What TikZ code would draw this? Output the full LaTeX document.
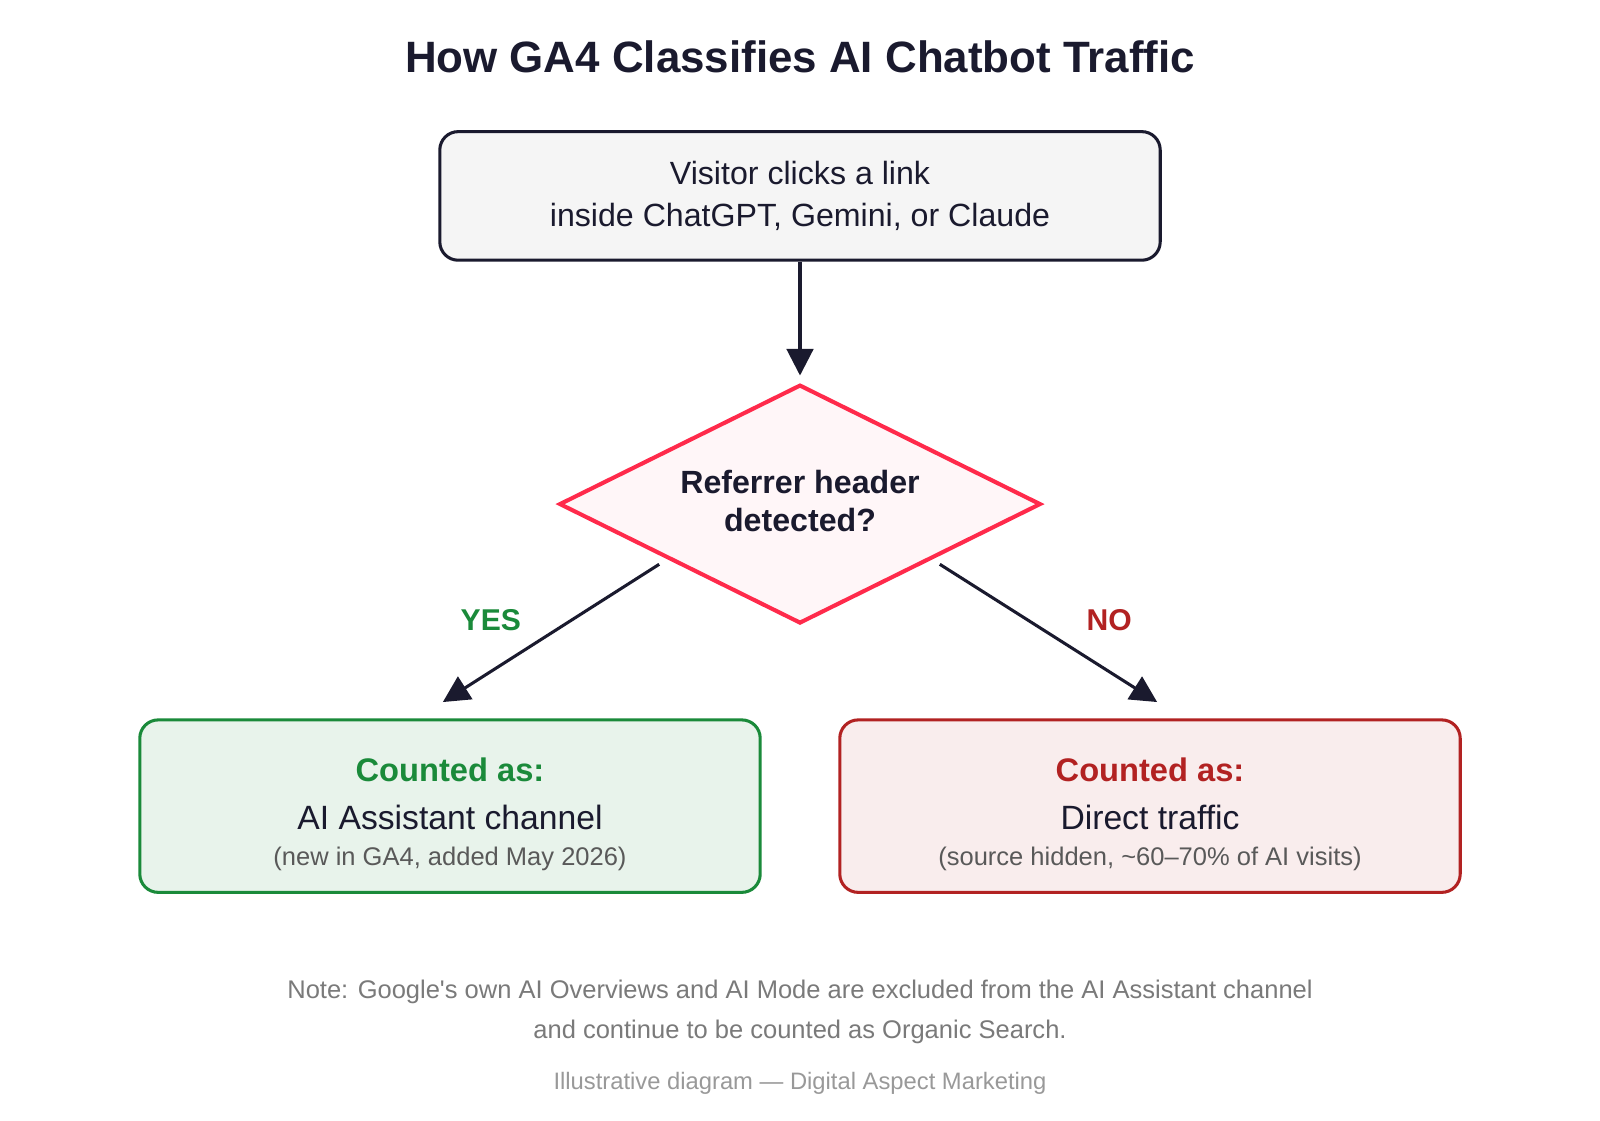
\documentclass[tikz,border=0pt]{standalone}
\usepackage{fontspec}
\setmainfont{Liberation Sans}
\usetikzlibrary{shapes.geometric,arrows.meta}
\definecolor{ink}{HTML}{1A1A2E}
\definecolor{grn}{HTML}{1A8A3A}
\definecolor{rd}{HTML}{B22222}
\definecolor{pink}{HTML}{FF2A4B}
\begin{document}
\begin{tikzpicture}[x=1pt,y=-1pt,
  box/.style={draw,line width=3pt,rounded corners=18pt,inner sep=0pt},
  arr/.style={draw=ink,line width=3pt,-{Triangle[length=26pt,width=26pt]}},
  t/.style={font=\fontsize{31.5}{36}\selectfont,text=ink},
  s/.style={font=\fontsize{25}{29}\selectfont,text=black!65},
  n/.style={font=\fontsize{25}{29}\selectfont,text=black!52}]
\fill[white] (0,0) rectangle (1600,1120);
\node[font=\bfseries\fontsize{43}{48}\selectfont,text=ink] (title) at (784,56) {How GA4 Classifies AI Chatbot Traffic};
\node[box,draw=ink,fill=black!4,minimum width=706pt,minimum height=126pt] (top) at (784,192) {};
\node[t] (t1) at (784,170) {Visitor clicks a link};
\node[t] (t2) at (784,213) {inside ChatGPT, Gemini, or Claude};
\node[diamond,draw=pink,fill=pink!4,line width=4pt,minimum width=472pt,minimum height=234pt,inner sep=0pt] (dec) at (784,494) {};
\node[font=\bfseries\fontsize{31.5}{36}\selectfont,text=ink,align=center] (dt) at (784,491) {Referrer header\\[1pt]detected?};
\coordinate (ya) at (646,553);
\coordinate (yb) at (434,688);
\coordinate (na) at (921,553);
\coordinate (nb) at (1134,688);
\coordinate (arrEnd) at (784,368);
\draw[arr] (top.south) -- (arrEnd);
\draw[arr] (ya) -- (yb);
\draw[arr] (na) -- (nb);
\node[font=\bfseries\fontsize{29.5}{34}\selectfont,text=grn] (yes) at (481,608) {YES};
\node[font=\bfseries\fontsize{29.5}{34}\selectfont,text=rd] (no) at (1087,608) {NO};
\node[box,draw=grn,fill=grn!10,minimum width=608pt,minimum height=169pt] (lb) at (441,790) {};
\node[font=\bfseries\fontsize{32}{36}\selectfont,text=grn] (l1) at (441,754) {Counted as:};
\node[t,font=\fontsize{33}{38}\selectfont] (l2) at (441,801) {AI Assistant channel};
\node[s] (l3) at (441,842) {(new in GA4, added May 2026)};
\node[box,draw=rd,fill=rd!8,minimum width=608pt,minimum height=169pt] (rb) at (1127,790) {};
\node[font=\bfseries\fontsize{32}{36}\selectfont,text=rd] (r1) at (1127,754) {Counted as:};
\node[t,font=\fontsize{33}{38}\selectfont] (r2) at (1127,801) {Direct traffic};
\node[s] (r3) at (1127,842) {(source hidden, \textasciitilde60--70\% of AI visits)};
\node[n] (n1) at (784,972) {Note: Google\textquotesingle s own AI Overviews and AI Mode are excluded from the AI Assistant channel};
\node[n] (n2) at (784,1011) {and continue to be counted as Organic Search.};
\node[font=\fontsize{23.3}{27}\selectfont,text=black!40] (foot) at (784,1062) {Illustrative diagram --- Digital Aspect Marketing};
\pgfresetboundingbox
\useasboundingbox (0,0) rectangle (1568,1097.6);
\end{tikzpicture}
\end{document}
